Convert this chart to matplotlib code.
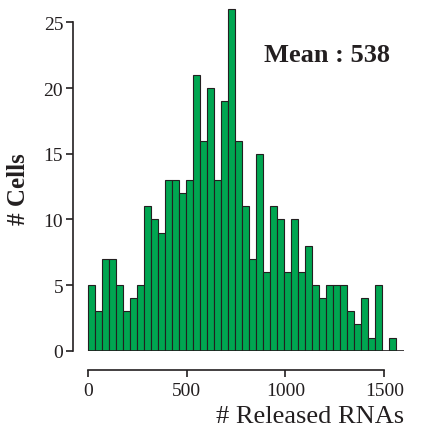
import numpy as np
import matplotlib
matplotlib.use('Agg')
import matplotlib.pyplot as plt

plt.rcParams['font.family'] = ['Liberation Serif', 'DejaVu Serif']

# histogram counts, one per bin (bin width ~35.5 RNAs)
counts = [5, 3, 7, 7, 5, 3, 4, 5, 11, 10, 9, 13, 13, 12, 13, 21, 16, 20, 13, 19, 26, 16,
          11, 7, 15, 6, 11, 10, 6, 10, 6, 8, 5, 4, 5, 5, 5, 3, 2, 4, 1, 5, 0, 1]
bin_width = 35.5
bin_left = [i * bin_width for i in range(len(counts))]
xticks = [0, 500, 1000, 1500]
yticks = [0, 5, 10, 15, 20, 25]

fig = plt.figure(figsize=(4.25, 4.27), dpi=100)
ax = fig.add_axes([0.1878, 0.1763, 0.7628, 0.8152])

ax.bar(bin_left, counts, width=bin_width, align='edge',
       color='#00A651', edgecolor='#231F20', linewidth=0.8)
ax.hlines(0, 0, 1600, color='#231F20', linewidth=1.2)

ax.set_xlim(-40, 1600)
ax.set_ylim(0, 26.5)
ax.set_xticks(xticks)
ax.set_yticks(yticks)

for s in ['top', 'right']:
    ax.spines[s].set_visible(False)
ax.spines['left'].set_position(('outward', 5))
ax.spines['bottom'].set_position(('outward', 14))
ax.spines['left'].set_bounds(0, 25)
ax.spines['bottom'].set_bounds(0, 1500)
for s in ['left', 'bottom']:
    ax.spines[s].set_color('#231F20')
    ax.spines[s].set_linewidth(1.2)

ax.tick_params(axis='both', direction='out', length=5, width=1.2,
               color='#231F20', labelsize=14, labelcolor='#231F20')
ax.tick_params(axis='y', pad=2)

ax.set_ylabel('# Cells', fontsize=18, fontweight='bold', color='#231F20')
ax.yaxis.set_label_coords(-0.155, 0.467)
ax.set_xlabel('# Released RNAs', fontsize=19, color='#231F20')
ax.xaxis.set_label_coords(1.0, -0.155)
ax.xaxis.label.set_horizontalalignment('right')

ax.text(0.957, 0.852, 'Mean : 538', transform=ax.transAxes, ha='right', va='center',
        fontsize=19, fontweight='bold', color='#231F20')

fig.savefig('out.png', dpi=100)
